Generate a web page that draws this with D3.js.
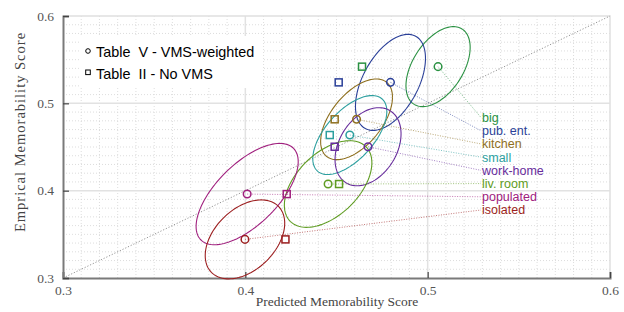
<!DOCTYPE html>
<html>
<head>
<meta charset="utf-8">
<script src="https://cdn.jsdelivr.net/npm/d3@7/dist/d3.min.js"></script>
<style>
  body { margin: 0; background: #fff; }
  svg { display: block; }
</style>
</head>
<body>
<div id="chart"></div>
<script>
// categories, top to bottom in the label column
var categories = ["big", "pub. ent.", "kitchen", "small", "work-home", "liv. room", "populated", "isolated"];
var colors = ["#2a9142", "#2a3f98", "#8e6f1e", "#2c9f9f", "#672c9c", "#5f9c22", "#a0207e", "#9c1f20"];

// empirical score (y) shared by both tables
var empirical = [0.542, 0.524, 0.4817, 0.4637, 0.4503, 0.4076, 0.3961, 0.3442];
// predicted scores (x)
var predVMS = [0.5057, 0.4796, 0.4610, 0.4573, 0.4673, 0.4454, 0.4010, 0.3998];   // Table V
var predNoVMS = [0.4640, 0.4512, 0.4490, 0.4463, 0.4490, 0.4514, 0.4227, 0.4220]; // Table II

// spread of each category (ellipse): std in x, std in y, correlation
var sdX = [0.0176, 0.0192, 0.0197, 0.0203, 0.0181, 0.0240, 0.0280, 0.0218];
var sdY = [0.0458, 0.0550, 0.0462, 0.0452, 0.0447, 0.0496, 0.0580, 0.0452];
var rho = [0.48, 0.50, 0.55, 0.60, 0.33, 0.49, 0.64, 0.41];

var xTicks = [0.3, 0.4, 0.5, 0.6];
var yTicks = [0.3, 0.4, 0.5, 0.6];
var legendLabels = ["Table  V - VMS-weighted", "Table  II - No VMS"];

var data = categories.map(function(c, i) {
  return {name: c, color: colors[i], y: empirical[i], xv: predVMS[i], xn: predNoVMS[i],
          sx: sdX[i], sy: sdY[i], r: rho[i]};
});

var W = 624, H = 312;
var margin = {top: 16, right: 14, bottom: 34, left: 63},
    width = W - margin.left - margin.right,
    height = H - margin.top - margin.bottom;

var svg = d3.select("#chart").append("svg")
    .attr("width", W)
    .attr("height", H)
  .append("g")
    .attr("transform", "translate(" + margin.left + "," + margin.top + ")");

var x = d3.scaleLinear().domain([0.3, 0.6]).range([0, width]);
var y = d3.scaleLinear().domain([0.3, 0.6]).range([height, 0]);

// minor grid (dotted, every 0.01)
var minor = d3.range(0.31, 0.6, 0.01).filter(function(v) { return Math.abs(v * 10 - Math.round(v * 10)) > 1e-6; });
svg.append("g").selectAll("line.mx").data(minor).enter().append("line")
  .attr("x1", function(d) { return x(d); }).attr("x2", function(d) { return x(d); })
  .attr("y1", 0).attr("y2", height)
  .attr("stroke", "#d4d4d4").attr("stroke-width", 0.8).attr("stroke-dasharray", "1,2");
svg.append("g").selectAll("line.my").data(minor).enter().append("line")
  .attr("y1", function(d) { return y(d); }).attr("y2", function(d) { return y(d); })
  .attr("x1", 0).attr("x2", width)
  .attr("stroke", "#d4d4d4").attr("stroke-width", 0.8).attr("stroke-dasharray", "1,2");

// major grid
svg.append("g").selectAll("line").data([0.4, 0.5]).enter().append("line")
  .attr("x1", function(d) { return x(d); }).attr("x2", function(d) { return x(d); })
  .attr("y1", 0).attr("y2", height)
  .attr("stroke", "#e2e2e2").attr("stroke-width", 1.5);
svg.append("g").selectAll("line").data([0.4, 0.5]).enter().append("line")
  .attr("y1", function(d) { return y(d); }).attr("y2", function(d) { return y(d); })
  .attr("x1", 0).attr("x2", width)
  .attr("stroke", "#e2e2e2").attr("stroke-width", 1.5);

// frame top/right
svg.append("path")
  .attr("d", "M0,0H" + width + "V" + height)
  .attr("fill", "none").attr("stroke", "#e0e0e0").attr("stroke-width", 1.5);

// diagonal y = x
svg.append("line")
  .attr("x1", x(0.3)).attr("y1", y(0.3)).attr("x2", x(0.6)).attr("y2", y(0.6))
  .attr("stroke", "#888").attr("stroke-width", 0.9).attr("stroke-dasharray", "1.2,1.8");

// legend background
var legend = svg.append("g").attr("transform", "translate(" + (x(0.3) + 17) + "," + 20 + ")");
legend.append("rect").attr("width", 182).attr("height", 52).attr("fill", "#fff");

// axes (inward ticks)
var xAxis = svg.append("g")
  .attr("transform", "translate(0," + height + ")")
  .call(d3.axisBottom(x).tickValues(xTicks).tickSize(-6).tickPadding(7).tickFormat(d3.format(".1f")));
var yAxis = svg.append("g")
  .call(d3.axisLeft(y).tickValues(yTicks).tickSize(-6).tickPadding(9).tickFormat(d3.format(".1f")));
[xAxis, yAxis].forEach(function(a) {
  a.select(".domain").attr("stroke", "#7a7a7a").attr("stroke-width", 2);
  a.selectAll(".tick line").attr("stroke", "#444").attr("stroke-width", 1.2);
  a.selectAll("text").attr("fill", "#555")
    .style("font-family", "'Liberation Serif', 'DejaVu Serif', serif").style("font-size", "13.5px");
});

// axis titles
svg.append("text")
  .attr("x", x(0.45) + 0.5).attr("y", height + 28)
  .attr("text-anchor", "middle").attr("fill", "#444")
  .style("font-family", "'Liberation Serif', serif").style("font-size", "13.5px")
  .text("Predicted Memorability Score");
svg.append("text")
  .attr("transform", "rotate(-90)")
  .attr("x", -(height / 2) + 15).attr("y", -38)
  .attr("text-anchor", "middle").attr("fill", "#444")
  .style("font-family", "'Liberation Serif', serif").style("font-size", "14.5px")
  .style("letter-spacing", "1px")
  .text("Emprical Memorability Score");

// ellipses
var ts = d3.range(0, 2 * Math.PI + 0.01, Math.PI / 60);
var ellLine = d3.line()
  .x(function(p) { return x(p[0]); })
  .y(function(p) { return y(p[1]); });
svg.append("g").selectAll("path").data(data).enter().append("path")
  .attr("d", function(d) {
    var pts = ts.map(function(t) {
      return [d.xv + d.sx * Math.cos(t),
              d.y + d.sy * (d.r * Math.cos(t) + Math.sqrt(1 - d.r * d.r) * Math.sin(t))];
    });
    return ellLine(pts);
  })
  .attr("fill", "none").attr("stroke", function(d) { return d.color; }).attr("stroke-width", 1.1);

// label column
var labelX = x(0.6) - 128;
var ly = d3.scalePoint().domain(categories).range([101.5, 194]);

// connectors from VMS point to label
svg.append("g").selectAll("line").data(data).enter().append("line")
  .attr("x1", function(d) { return x(d.xv); }).attr("y1", function(d) { return y(d.y); })
  .attr("x2", labelX - 1).attr("y2", function(d) { return ly(d.name); })
  .attr("stroke", function(d) { return d.color; }).attr("stroke-opacity", 0.6)
  .attr("stroke-width", 1).attr("stroke-dasharray", "1,1.5");

// markers: squares (No VMS) and circles (VMS)
var sq = 7;
svg.append("g").selectAll("rect").data(data).enter().append("rect")
  .attr("x", function(d) { return x(d.xn) - sq / 2; })
  .attr("y", function(d) { return y(d.y) - sq / 2; })
  .attr("width", sq).attr("height", sq)
  .attr("fill", "none").attr("stroke", function(d) { return d.color; }).attr("stroke-width", 1.5);
svg.append("g").selectAll("circle").data(data).enter().append("circle")
  .attr("cx", function(d) { return x(d.xv); })
  .attr("cy", function(d) { return y(d.y); })
  .attr("r", 3.8)
  .attr("fill", "none").attr("stroke", function(d) { return d.color; }).attr("stroke-width", 1.5);

// labels
svg.append("g").selectAll("text").data(data).enter().append("text")
  .attr("x", labelX).attr("y", function(d) { return ly(d.name); })
  .attr("dy", "0.35em")
  .attr("fill", function(d) { return d.color; })
  .style("font-family", "'Liberation Sans', Arial, sans-serif").style("font-size", "12.5px")
  .text(function(d) { return d.name; });

// legend entries
legend.append("circle").attr("cx", 8).attr("cy", 15).attr("r", 2.3)
  .attr("fill", "none").attr("stroke", "#000").attr("stroke-width", 1);
legend.append("rect").attr("x", 5.7).attr("y", 34).attr("width", 4.6).attr("height", 4.6)
  .attr("fill", "none").attr("stroke", "#000").attr("stroke-width", 1);
legend.selectAll("text.lg").data(legendLabels).enter().append("text")
  .attr("x", 16).attr("y", function(d, i) { return 20.5 + i * 22; })
  .attr("fill", "#000").style("white-space", "pre")
  .style("font-family", "'Liberation Sans', Arial, sans-serif").style("font-size", "14.4px")
  .text(function(d) { return d; });
</script>
</body>
</html>
